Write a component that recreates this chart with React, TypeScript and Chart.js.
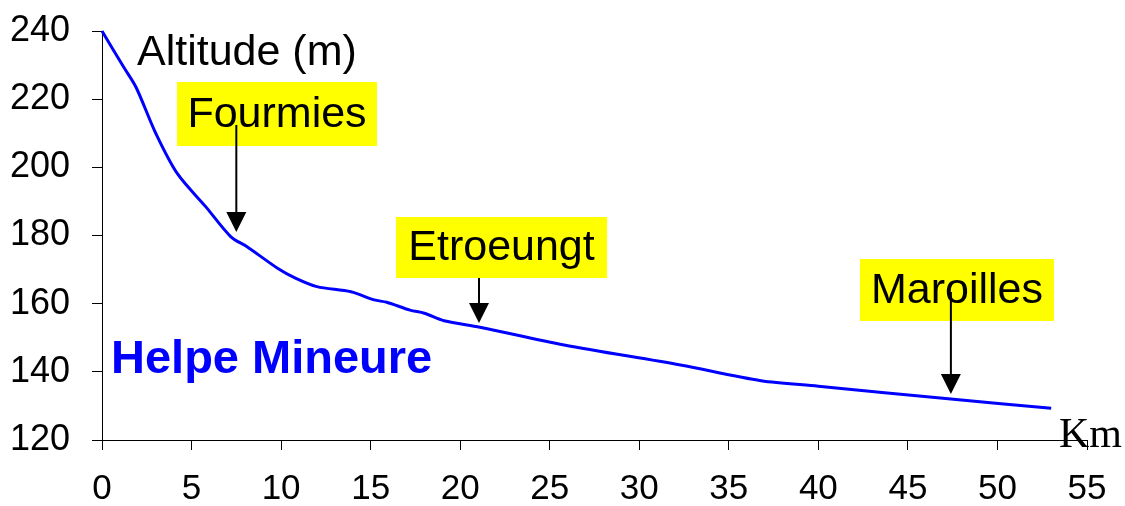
import React, { useEffect, useRef } from 'react';
import { Chart, registerables } from 'chart.js';

Chart.register(...registerables);

// ---- data ----
const kmValues = [0, 1.2, 1.9, 3, 4.2, 5.8, 7.2, 8.1, 9.8, 10.8, 12, 13.9, 15.2, 15.9, 17.2, 18, 19.1, 21.1, 25.8, 32.3, 36.8, 40, 47.4, 53];
const altitudes = [240, 229.5, 223.5, 210, 198.2, 188.4, 179.6, 176.7, 170.4, 167.5, 165, 163.5, 161.1, 160.4, 158.1, 157.2, 155, 153.1, 147.9, 142, 137.4, 135.8, 132, 129.3];
const xTicks = [0, 5, 10, 15, 20, 25, 30, 35, 40, 45, 50, 55];
const yTicks = [120, 140, 160, 180, 200, 220, 240];
const townNames = ['Fourmies', 'Etroeungt', 'Maroilles'];
const townKm = [7.5, 21.05, 47.4];
const townTipAlt = [181, 154.3, 133.5];
const riverName = 'Helpe Mineure';
const yTitle = 'Altitude (m)';
const xTitle = 'Km';

// ---- layout (pixels) ----
const townBoxes = [
  { left: 177, top: 82, w: 200, h: 64, tail: 125 },
  { left: 396, top: 217, w: 211, h: 61, tail: 278 },
  { left: 860, top: 259, w: 194, h: 62, tail: 292 },
];

const SANS = '"Liberation Sans", Arial, sans-serif';
const SERIF = '"Liberation Serif", "Times New Roman", serif';

const annotationPlugin = {
  id: 'annotations',
  afterDraw(chart: any) {
    const ctx = chart.ctx as CanvasRenderingContext2D;
    const xs = chart.scales.x;
    const ys = chart.scales.y;
    ctx.save();
    // titles
    ctx.fillStyle = '#000';
    ctx.textAlign = 'left';
    ctx.textBaseline = 'alphabetic';
    ctx.font = `43px ${SANS}`;
    ctx.fillText(yTitle, 137, 65);
    ctx.font = `42px ${SERIF}`;
    ctx.fillText(xTitle, 1059, 447);
    ctx.fillStyle = '#0000ff';
    ctx.font = `bold 47px ${SANS}`;
    ctx.fillText(riverName, 111, 373);

    // town boxes + arrows
    townNames.forEach((name, i) => {
      const b = townBoxes[i];
      ctx.fillStyle = '#ffff00';
      ctx.fillRect(b.left, b.top, b.w, b.h);
      ctx.fillStyle = '#000';
      ctx.font = `43px ${SANS}`;
      ctx.textAlign = 'center';
      ctx.textBaseline = 'middle';
      ctx.fillText(name, b.left + b.w / 2, b.top + b.h / 2 + 1);
      const tx = xs.getPixelForValue(townKm[i]);
      const ty = ys.getPixelForValue(townTipAlt[i]);
      const head = 20;
      ctx.strokeStyle = '#000';
      ctx.lineWidth = 2;
      ctx.beginPath();
      ctx.moveTo(tx, b.tail);
      ctx.lineTo(tx, ty - head + 2);
      ctx.stroke();
      ctx.beginPath();
      ctx.moveTo(tx, ty);
      ctx.lineTo(tx - 10, ty - head);
      ctx.lineTo(tx + 10, ty - head);
      ctx.closePath();
      ctx.fill();
    });
    ctx.restore();
  },
};

const zeroPad = (s: any) => {
  s.paddingTop = 0;
  s.paddingBottom = 0;
  s.paddingLeft = 0;
  s.paddingRight = 0;
};

export default function App() {
  const ref = useRef<HTMLCanvasElement | null>(null);
  useEffect(() => {
    if (!ref.current) return;
    const chart = new Chart(ref.current, {
      type: 'line',
      data: {
        datasets: [
          {
            data: kmValues.map((x, i) => ({ x, y: altitudes[i] })),
            borderColor: '#0000ff',
            borderWidth: 3,
            pointRadius: 0,
            tension: 0.3,
            fill: false,
            clip: false as any,
          },
        ],
      },
      options: {
        animation: false,
        responsive: false,
        devicePixelRatio: 1,
        layout: { padding: { top: 31, right: 38, left: 0, bottom: 0 } },
        plugins: { legend: { display: false }, tooltip: { enabled: false } },
        scales: {
          x: {
            type: 'linear',
            min: xTicks[0],
            max: xTicks[xTicks.length - 1],
            afterBuildTicks: (s: any) => {
              s.ticks = xTicks.map((v) => ({ value: v }));
            },
            afterFit: (s: any) => {
              s.height = 66;
              zeroPad(s);
            },
            ticks: {
              color: '#000',
              font: { family: SANS, size: 35 },
              padding: 18,
              maxRotation: 0,
              autoSkip: false,
            },
            grid: { drawOnChartArea: false, drawTicks: true, tickLength: 10, color: '#000' },
            border: { display: true, color: '#000', width: 1 },
          },
          y: {
            type: 'linear',
            min: yTicks[0],
            max: yTicks[yTicks.length - 1],
            afterBuildTicks: (s: any) => {
              s.ticks = yTicks.map((v) => ({ value: v }));
            },
            afterFit: (s: any) => {
              s.width = 102;
              zeroPad(s);
            },
            ticks: {
              color: '#000',
              font: { family: SANS, size: 36 },
              padding: 22,
              autoSkip: false,
            },
            grid: { drawOnChartArea: false, drawTicks: true, tickLength: 10, color: '#000' },
            border: { display: true, color: '#000', width: 1 },
          },
        },
      },
      plugins: [annotationPlugin],
    } as any);
    return () => chart.destroy();
  }, []);
  return (
    <div style={{ position: 'fixed', left: 0, top: 0, width: 1125, height: 506, background: '#fff' }}>
      <canvas ref={ref} width={1125} height={506} style={{ width: 1125, height: 506, display: 'block' }} />
    </div>
  );
}
